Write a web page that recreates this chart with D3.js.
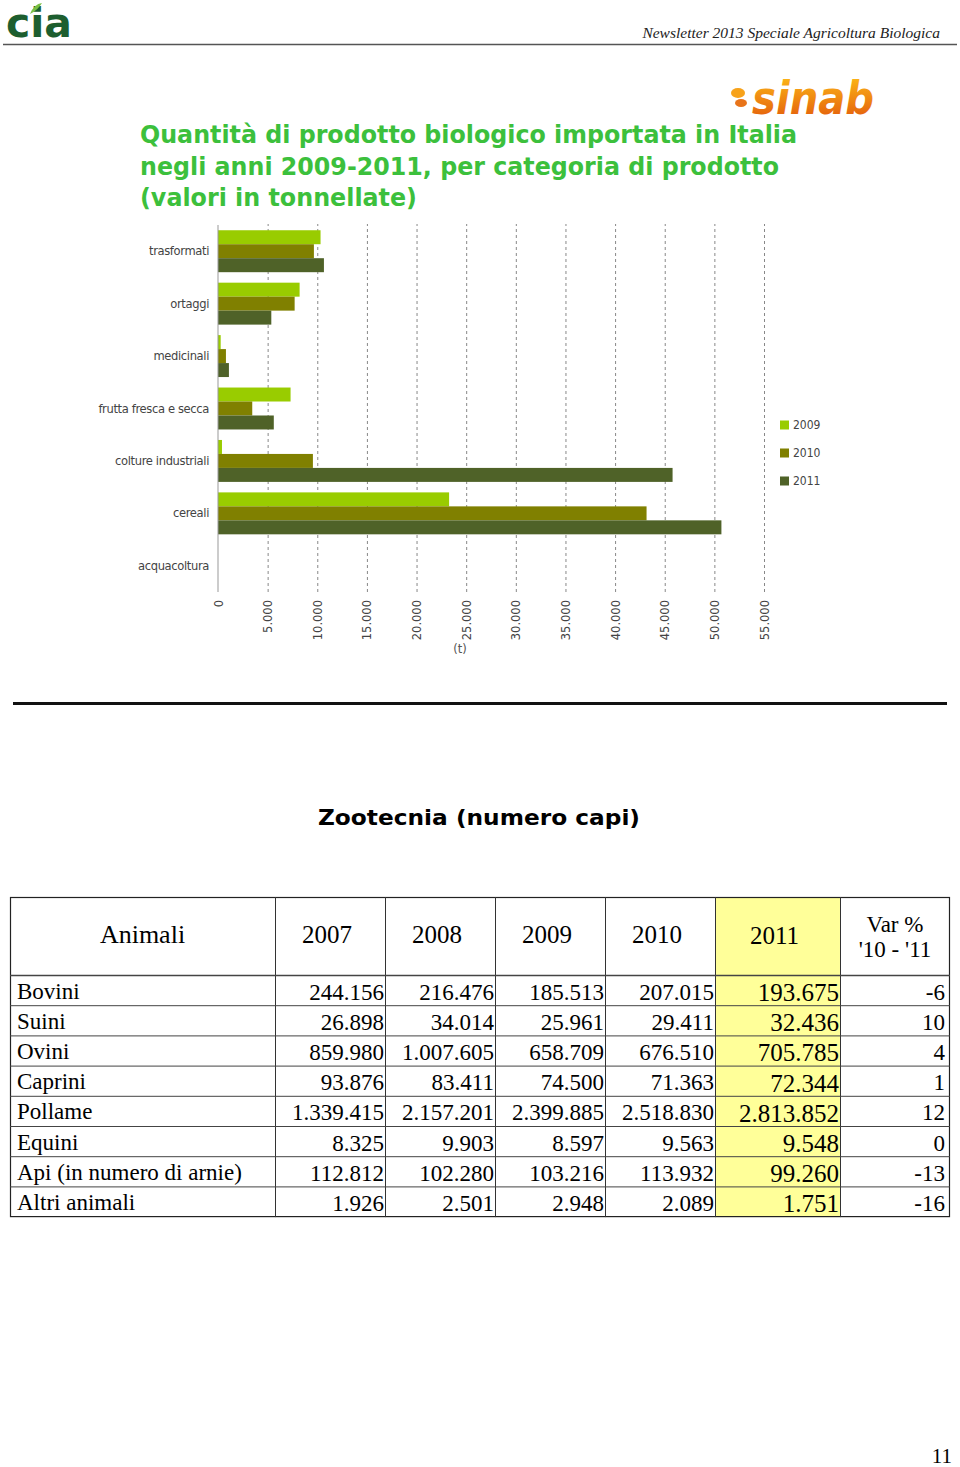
<!DOCTYPE html>
<html>
<head>
<meta charset="utf-8">
<script src="https://cdn.jsdelivr.net/npm/d3@7"></script>
<style>
  html, body { margin: 0; padding: 0; background: #fff; }
  svg { display: block; }
</style>
</head>
<body>
<div id="chart"></div>
<script>
// ---------- DATA ----------
const categories = ["trasformati", "ortaggi", "medicinali", "frutta fresca e secca", "colture industriali", "cereali", "acquacoltura"];
const years = ["2009", "2010", "2011"];
const values2009 = [10330, 8220, 270, 7310, 400, 23280, 0];
const values2010 = [9660, 7720, 800, 3450, 9560, 43170, 0];
const values2011 = [10670, 5370, 1100, 5620, 45790, 50710, 0];
const xTicks = [0, 5000, 10000, 15000, 20000, 25000, 30000, 35000, 40000, 45000, 50000, 55000];
const titleLines = ["Quantità di prodotto biologico importata in Italia", "negli anni 2009-2011, per categoria di prodotto", "(valori in tonnellate)"];

const tableHeader = ["Animali", "2007", "2008", "2009", "2010", "2011"];
const tableVarHeader = ["Var %", "'10 - '11"];
const animals = ["Bovini", "Suini", "Ovini", "Caprini", "Pollame", "Equini", "Api (in numero di arnie)", "Altri animali"];
const col2007 = ["244.156", "26.898", "859.980", "93.876", "1.339.415", "8.325", "112.812", "1.926"];
const col2008 = ["216.476", "34.014", "1.007.605", "83.411", "2.157.201", "9.903", "102.280", "2.501"];
const col2009 = ["185.513", "25.961", "658.709", "74.500", "2.399.885", "8.597", "103.216", "2.948"];
const col2010 = ["207.015", "29.411", "676.510", "71.363", "2.518.830", "9.563", "113.932", "2.089"];
const col2011 = ["193.675", "32.436", "705.785", "72.344", "2.813.852", "9.548", "99.260", "1.751"];
const colVar = ["-6", "10", "4", "1", "12", "0", "-13", "-16"];

// ---------- PAGE ----------
const W = 960, H = 1467;
const svg = d3.select("#chart").append("svg").attr("width", W).attr("height", H);

// Header
svg.append("text").attr("x", 6).attr("y", 37)
  .attr("font-family", "DejaVu Sans").attr("font-weight", "bold").attr("font-size", 40)
  .attr("fill", "#1d5e2f").attr("textLength", 66).attr("lengthAdjust", "spacingAndGlyphs")
  .text("cia");
svg.append("path").attr("d", "M30 14 Q34 4 42 3 Q38 10 30 14 Z").attr("fill", "#7bc043");
svg.append("text").attr("x", 940).attr("y", 38).attr("text-anchor", "end")
  .attr("font-family", "Liberation Serif").attr("font-style", "italic").attr("font-size", 15.5)
  .attr("fill", "#222").text("Newsletter 2013 Speciale Agricoltura Biologica");
svg.append("line").attr("x1", 3).attr("x2", 957).attr("y1", 44.5).attr("y2", 44.5)
  .attr("stroke", "#555").attr("stroke-width", 1.5);

// sinab logo
const defs = svg.append("defs");
const grad = defs.append("linearGradient").attr("id", "og").attr("x1", 0).attr("x2", 0).attr("y1", 0).attr("y2", 1);
grad.append("stop").attr("offset", "0%").attr("stop-color", "#ffc21a");
grad.append("stop").attr("offset", "100%").attr("stop-color", "#e0520a");
svg.append("text").attr("x", 752).attr("y", 114)
  .attr("font-family", "DejaVu Sans").attr("font-weight", "bold").attr("font-style", "italic")
  .attr("font-size", 46).attr("fill", "url(#og)")
  .attr("textLength", 122).attr("lengthAdjust", "spacingAndGlyphs").text("sinab");
svg.append("ellipse").attr("cx", 738).attr("cy", 93).attr("rx", 7).attr("ry", 5).attr("fill", "#f7a21a");
svg.append("ellipse").attr("cx", 741).attr("cy", 103).attr("rx", 6).attr("ry", 4).attr("fill", "#e8741a");

// Title
const titleLengths = [657, 639, 277];
svg.append("g").selectAll("text").data(titleLines).join("text")
  .attr("x", 140).attr("y", (d, i) => 143 + i * 31.5)
  .attr("font-family", "DejaVu Sans").attr("font-weight", "bold").attr("font-size", 24)
  .attr("fill", "#3cc03c")
  .attr("textLength", (d, i) => titleLengths[i]).attr("lengthAdjust", "spacingAndGlyphs")
  .text(d => d);

// ---------- BAR CHART ----------
const x = d3.scaleLinear().domain([0, 55000]).range([218, 764]);
const y0 = d3.scaleBand().domain(categories).range([225, 592]).paddingInner(0.2).paddingOuter(0.1);
const y1 = d3.scaleBand().domain(years).range([0, y0.bandwidth()]);
const colors = d3.scaleOrdinal().domain(years).range(["#99cc00", "#808000", "#4f6228"]);
const seriesVals = { "2009": values2009, "2010": values2010, "2011": values2011 };

const chart = svg.append("g");
// gridlines via axis
const grid = chart.append("g").attr("transform", "translate(0,592)")
  .call(d3.axisBottom(x).tickValues(xTicks.slice(1)).tickSize(-368).tickFormat(""));
grid.select(".domain").remove();
grid.selectAll("line").attr("stroke", "#888").attr("stroke-dasharray", "3,3").attr("stroke-width", 1);

// bars
categories.forEach((c, ci) => {
  years.forEach(yr => {
    const v = seriesVals[yr][ci];
    if (v <= 0) return;
    chart.append("rect")
      .attr("x", x(0)).attr("y", y0(c) + y1(yr))
      .attr("width", x(v) - x(0)).attr("height", y1.bandwidth())
      .attr("fill", colors(yr));
  });
});

// y axis line
chart.append("line").attr("x1", x(0)).attr("x2", x(0)).attr("y1", 225).attr("y2", 592)
  .attr("stroke", "#999").attr("stroke-width", 1);

// category labels
const yAxis = chart.append("g").attr("transform", "translate(209,0)")
  .call(d3.axisLeft(y0).tickSize(0).tickPadding(0));
yAxis.select(".domain").remove();
yAxis.selectAll("text").attr("font-family", "DejaVu Sans Condensed").attr("font-size", 12.8)
  .attr("fill", "#444").attr("letter-spacing", -0.35);

// x tick labels
const it = d3.formatLocale({ decimal: ",", thousands: ".", grouping: [3], currency: ["€", ""] });
const fmt = it.format(",d");
const xAxis = chart.append("g").attr("transform", "translate(0,598)")
  .call(d3.axisBottom(x).tickValues(xTicks).tickSize(0).tickFormat(fmt));
xAxis.select(".domain").remove();
xAxis.selectAll("text")
  .attr("transform", "rotate(-90)").attr("text-anchor", "end")
  .attr("x", -2).attr("y", 0).attr("dx", 0).attr("dy", "0.35em")
  .attr("font-family", "DejaVu Sans").attr("font-size", 11.5).attr("fill", "#444");

chart.append("text").attr("x", 460).attr("y", 653).attr("text-anchor", "middle")
  .attr("font-family", "DejaVu Sans").attr("font-size", 11.5).attr("fill", "#555").text("(t)");

// legend
const legend = chart.append("g");
years.forEach((yr, i) => {
  const cy = 425 + i * 28;
  legend.append("rect").attr("x", 780).attr("y", cy - 4.5).attr("width", 9).attr("height", 9).attr("fill", colors(yr));
  legend.append("text").attr("x", 793).attr("y", cy + 4.2)
    .attr("font-family", "DejaVu Sans Condensed").attr("font-size", 12).attr("fill", "#444").text(yr);
});

// divider
svg.append("line").attr("x1", 13).attr("x2", 947).attr("y1", 703.5).attr("y2", 703.5)
  .attr("stroke", "#111").attr("stroke-width", 3);

// ---------- TABLE ----------
svg.append("text").attr("x", 479).attr("y", 825).attr("text-anchor", "middle")
  .attr("font-family", "DejaVu Sans").attr("font-weight", "bold").attr("font-size", 22)
  .attr("fill", "#000").attr("textLength", 322).attr("lengthAdjust", "spacingAndGlyphs")
  .text("Zootecnia (numero capi)");

const colX = [10, 275, 385, 495, 605, 715, 840, 950];
const tTop = 897, hdrBottom = 975.5, rowH = 30.2;
const tBottom = hdrBottom + rowH * animals.length;
const tbl = svg.append("g");
tbl.append("rect").attr("x", colX[5]).attr("y", tTop).attr("width", colX[6] - colX[5])
  .attr("height", tBottom - tTop).attr("fill", "#ffff99");
// borders
tbl.append("rect").attr("x", colX[0] + 0.5).attr("y", tTop + 0.5).attr("width", colX[7] - colX[0] - 1)
  .attr("height", tBottom - tTop - 1).attr("fill", "none").attr("stroke", "#222").attr("stroke-width", 1.2);
colX.slice(1, 7).forEach(cx => {
  tbl.append("line").attr("x1", cx + 0.5).attr("x2", cx + 0.5).attr("y1", tTop).attr("y2", tBottom)
    .attr("stroke", "#333").attr("stroke-width", 1);
});
d3.range(animals.length).forEach(i => {
  const yy = hdrBottom + i * rowH;
  tbl.append("line").attr("x1", colX[0]).attr("x2", colX[7]).attr("y1", yy).attr("y2", yy)
    .attr("stroke", "#444").attr("stroke-width", i === 0 ? 1.5 : 1);
});
const serif = "Liberation Serif";
tableHeader.forEach((h, i) => {
  tbl.append("text").attr("x", (colX[i] + colX[i + 1]) / 2 + (i === 0 ? 0 : -3)).attr("y", 943 + (i === 5 ? 1 : 0))
    .attr("text-anchor", "middle").attr("font-family", serif).attr("font-size", i === 0 ? 26 : 25)
    .attr("fill", "#000").text(h);
});
tableVarHeader.forEach((h, i) => {
  tbl.append("text").attr("x", 895).attr("y", 932 + i * 25).attr("text-anchor", "middle")
    .attr("font-family", serif).attr("font-size", 23).attr("fill", "#000").text(h);
});
const cols = [col2007, col2008, col2009, col2010, col2011, colVar];
animals.forEach((a, r) => {
  const base = hdrBottom + r * rowH + 23;
  tbl.append("text").attr("x", 17).attr("y", base).attr("font-family", serif).attr("font-size", 23)
    .attr("fill", "#000").text(a);
  cols.forEach((col, ci) => {
    const rightX = ci === 5 ? 945 : colX[ci + 2] - 1;
    tbl.append("text").attr("x", rightX).attr("y", base + (ci === 4 ? 2.5 : 1))
      .attr("text-anchor", "end").attr("font-family", serif).attr("font-size", ci === 4 ? 25 : 23)
      .attr("fill", "#000").text(col[r]);
  });
});

// page number
svg.append("text").attr("x", 952).attr("y", 1463).attr("text-anchor", "end")
  .attr("font-family", serif).attr("font-size", 21).attr("fill", "#000").text("11");
</script>
</body>
</html>
